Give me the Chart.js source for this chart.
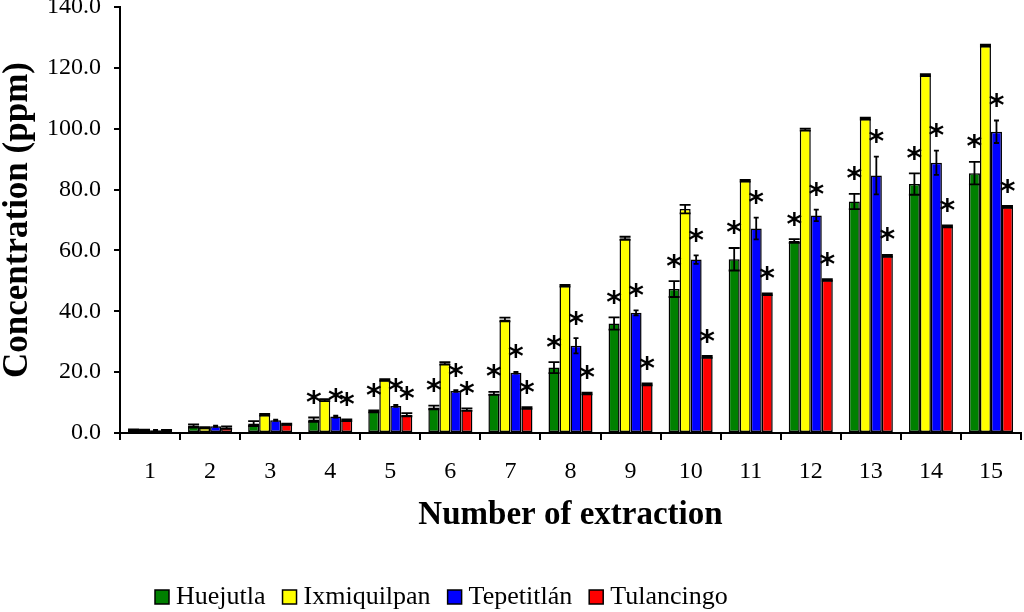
<!DOCTYPE html>
<html lang="en">
<head>
    <meta charset="UTF-8">
    <title>Concentration (ppm) by number of extraction</title>
    <style>
        html, body { margin: 0; padding: 0; background: #ffffff; }
        #grafico { display: block; }
    </style>
    <script src="https://cdn.jsdelivr.net/npm/chart.js"></script>
</head>
<body>
    <canvas id="grafico" width="1024" height="612"></canvas>

    <script>
        // Categorias do eixo X
        const extractions = ['1', '2', '3', '4', '5', '6', '7', '8', '9', '10', '11', '12', '13', '14', '15'];

        // Valores médios (ppm)
        const huejutla    = [1.0, 2.3, 3.1, 4.4, 7.1, 8.4, 13.0, 21.5, 36.0, 47.3, 57.1, 63.1, 76.1, 81.8, 85.4];
        const ixmiquilpan = [1.0, 1.7, 6.0, 10.8, 17.4, 22.9, 37.3, 48.4, 64.0, 73.6, 82.9, 99.7, 103.3, 117.6, 127.3];
        const tepetitlan  = [0.9, 2.2, 4.2, 5.4, 8.9, 13.8, 19.8, 28.7, 39.5, 57.0, 67.2, 71.5, 84.6, 88.8, 99.0];
        const tulancingo  = [0.9, 1.8, 2.9, 4.2, 6.0, 7.7, 8.2, 13.0, 16.0, 25.0, 45.6, 50.3, 58.2, 67.9, 74.3];

        // Desvios (barras de erro)
        const huejutlaErr    = [0.2, 0.5, 0.8, 0.7, 0.3, 0.6, 0.5, 1.8, 2.0, 2.6, 3.7, 0.6, 2.5, 3.5, 3.7];
        const ixmiquilpanErr = [0.1, 0.2, 0.3, 0.3, 0.3, 0.4, 0.6, 0.3, 0.5, 1.4, 0.3, 0.3, 0.3, 0.3, 0.3];
        const tepetitlanErr  = [0.1, 0.2, 0.2, 0.3, 0.3, 0.3, 0.3, 2.5, 0.8, 1.4, 3.6, 1.9, 6.2, 4.0, 3.7];
        const tulancingoErr  = [0.1, 0.4, 0.2, 0.3, 0.5, 0.4, 0.3, 0.3, 0.3, 0.3, 0.3, 0.3, 0.3, 0.3, 0.3];

        // Diferença significativa (asterisco) por barra
        const huejutlaSig    = [0, 0, 0, 1, 1, 1, 1, 1, 1, 1, 1, 1, 1, 1, 1];
        const ixmiquilpanSig = [0, 0, 0, 0, 0, 0, 0, 0, 0, 0, 0, 0, 0, 0, 0];
        const tepetitlanSig  = [0, 0, 0, 1, 1, 1, 1, 1, 1, 1, 1, 1, 1, 1, 1];
        const tulancingoSig  = [0, 0, 0, 1, 1, 1, 1, 1, 1, 1, 1, 1, 1, 1, 1];

        // Eixo Y
        const yMin = 0;
        const yMax = 140;
        const yStep = 20;

        const serif = '"Liberation Serif", "Times New Roman", serif';

        // Barras de erro desenhadas com as escalas do gráfico
        const errorBars = {
            id: 'errorBars',
            afterDatasetsDraw(chart) {
                const ctx = chart.ctx;
                const yScale = chart.scales.y;
                ctx.save();
                ctx.strokeStyle = '#000000';
                ctx.lineWidth = 1.8;
                chart.data.datasets.forEach((ds, i) => {
                    const meta = chart.getDatasetMeta(i);
                    const cap = ds.capWidth / 2;
                    meta.data.forEach((bar, j) => {
                        const v = ds.data[j];
                        const e = ds.err[j];
                        const top = yScale.getPixelForValue(v + e);
                        const bot = yScale.getPixelForValue(Math.max(v - e, 0));
                        ctx.beginPath();
                        ctx.moveTo(bar.x, top);
                        ctx.lineTo(bar.x, bot);
                        ctx.moveTo(bar.x - cap, top);
                        ctx.lineTo(bar.x + cap, top);
                        ctx.moveTo(bar.x - cap, bot);
                        ctx.lineTo(bar.x + cap, bot);
                        ctx.stroke();
                    });
                });
                ctx.restore();
            }
        };

        // Asteriscos acima das barras significativas
        const asterisks = {
            id: 'asterisks',
            afterDatasetsDraw(chart) {
                const ctx = chart.ctx;
                const yScale = chart.scales.y;
                ctx.save();
                ctx.fillStyle = '#000000';
                ctx.font = 'bold 30px "DejaVu Sans", sans-serif';
                ctx.textAlign = 'center';
                ctx.textBaseline = 'alphabetic';
                const m = ctx.measureText('*');
                const mid = (m.actualBoundingBoxAscent - m.actualBoundingBoxDescent) / 2;
                chart.data.datasets.forEach((ds, i) => {
                    const meta = chart.getDatasetMeta(i);
                    meta.data.forEach((bar, j) => {
                        if (!ds.sig[j]) return;
                        const top = yScale.getPixelForValue(ds.data[j] + ds.err[j]);
                        ctx.fillText('*', bar.x, top - 20 + mid);
                    });
                });
                ctx.restore();
            }
        };

        // Legenda na parte de baixo
        const bottomLegend = {
            id: 'bottomLegend',
            afterDraw(chart) {
                const ctx = chart.ctx;
                ctx.save();
                ctx.font = '26px ' + serif;
                ctx.textBaseline = 'middle';
                ctx.textAlign = 'left';
                let x = 155;
                const yc = 597;
                const box = 14;
                chart.data.datasets.forEach(ds => {
                    ctx.fillStyle = ds.backgroundColor;
                    ctx.fillRect(x, yc - box / 2, box, box);
                    ctx.strokeStyle = '#000000';
                    ctx.lineWidth = 1.5;
                    ctx.strokeRect(x, yc - box / 2, box, box);
                    x += box + 7;
                    ctx.fillStyle = '#000000';
                    ctx.fillText(ds.label, x, yc);
                    x += ctx.measureText(ds.label).width + 17;
                });
                ctx.restore();
            }
        };

        function serie(label, cor, data, err, sig, capWidth) {
            return {
                label: label,
                data: data,
                err: err,
                sig: sig,
                capWidth: capWidth,
                backgroundColor: cor,
                borderColor: '#000000',
                borderWidth: 1.5,
                borderSkipped: false
            };
        }

        const ctx = document.getElementById('grafico').getContext('2d');
        const chart = new Chart(ctx, {
            type: 'bar',
            data: {
                labels: extractions,
                datasets: [
                    serie('Huejutla', '#008000', huejutla, huejutlaErr, huejutlaSig, 11),
                    serie('Ixmiquilpan', '#FFFF00', ixmiquilpan, ixmiquilpanErr, ixmiquilpanSig, 11),
                    serie('Tepetitlán', '#0000FF', tepetitlan, tepetitlanErr, tepetitlanSig, 5),
                    serie('Tulancingo', '#FF0000', tulancingo, tulancingoErr, tulancingoSig, 11)
                ]
            },
            options: {
                responsive: false,
                animation: false,
                layout: { padding: { left: 0, right: 3, top: 7, bottom: 80 } },
                datasets: { bar: { categoryPercentage: 0.733, barPercentage: 1.0 } },
                plugins: {
                    legend: { display: false },
                    tooltip: { enabled: false }
                },
                scales: {
                    x: {
                        afterFit(scale) {
                            scale.height = 99;
                            scale.paddingLeft = 0;
                            scale.paddingRight = 0;
                        },
                        grid: { drawOnChartArea: false, offset: true, color: '#000000', lineWidth: 2, tickLength: 7 },
                        border: { color: '#000000', width: 2 },
                        ticks: { color: '#000000', font: { family: serif, size: 24 }, padding: 17, maxRotation: 0 },
                        title: {
                            display: true,
                            text: 'Number of extraction',
                            color: '#000000',
                            font: { family: serif, size: 33, weight: 'bold', lineHeight: 1 },
                            padding: { top: 14, bottom: 0 }
                        }
                    },
                    y: {
                        min: yMin,
                        max: yMax,
                        afterFit(scale) {
                            scale.width = 120;
                            scale.paddingTop = 0;
                            scale.paddingBottom = 0;
                        },
                        grid: { drawOnChartArea: false, color: '#000000', lineWidth: 2, tickLength: 6 },
                        border: { color: '#000000', width: 2 },
                        ticks: {
                            stepSize: yStep,
                            color: '#000000',
                            font: { family: serif, size: 24 },
                            padding: 13,
                            callback: v => v.toFixed(1)
                        },
                        title: {
                            display: true,
                            text: 'Concentration (ppm)',
                            color: '#000000',
                            font: { family: serif, size: 35, weight: 'bold', lineHeight: 1 },
                            padding: { top: 0, bottom: 13 }
                        }
                    }
                }
            },
            plugins: [errorBars, asterisks, bottomLegend]
        });
    </script>
</body>
</html>
